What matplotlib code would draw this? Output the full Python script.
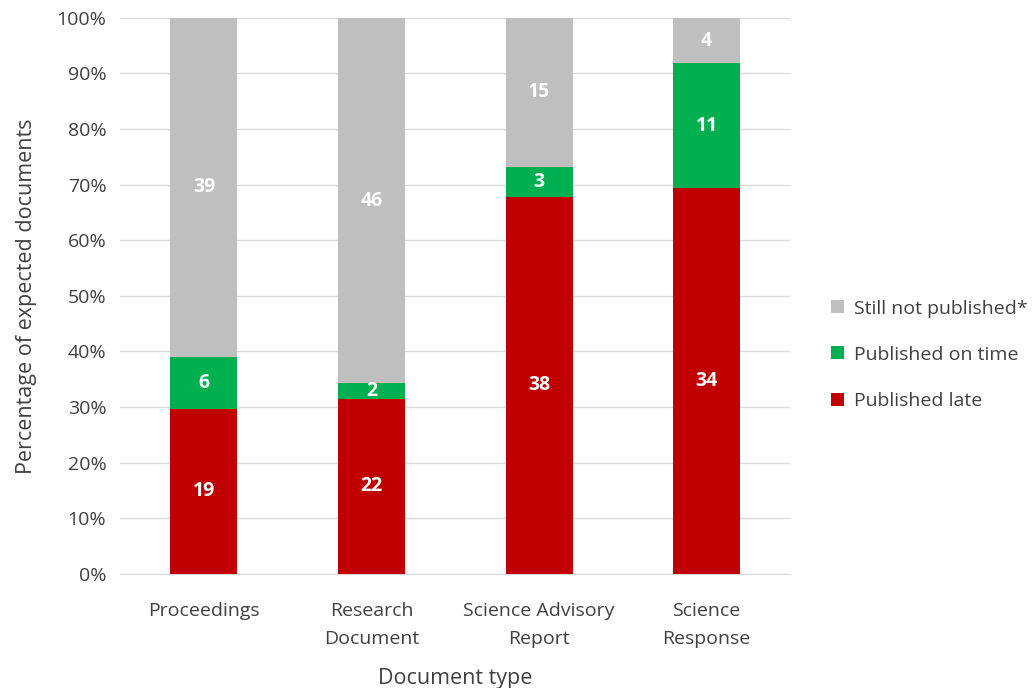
import matplotlib
matplotlib.use("Agg")
import matplotlib.pyplot as plt
import numpy as np

categories = ["Proceedings", "Research\nDocument", "Science Advisory\nReport", "Science\nResponse"]
published_late = [19, 22, 38, 34]
published_on_time = [6, 2, 3, 11]
still_not_published = [39, 46, 15, 4]
series_names = ["Published late", "Published on time", "Still not published*"]
colors = ["#C00000", "#00B050", "#BFBFBF"]

plt.rcParams['font.family'] = ['Open Sans', 'DejaVu Sans']

fig = plt.figure(figsize=(10.36, 6.88), dpi=100)
ax = fig.add_axes([0.116, 0.166, 0.647, 0.808])

counts = np.array([published_late, published_on_time, still_not_published], dtype=float)
totals = counts.sum(axis=0)
pct = counts / totals * 100
x = np.arange(len(categories))
bottom = np.zeros(len(categories))
handles = []
for i in range(3):
    b = ax.bar(x, pct[i], 0.4, bottom=bottom, color=colors[i], label=series_names[i], zorder=3)
    handles.append(b)
    for j in range(len(categories)):
        ax.text(x[j], bottom[j] + pct[i][j] / 2, f"{int(counts[i][j])}", ha='center', va='center',
                color='white', fontsize=14, fontweight='bold', zorder=4)
    bottom += pct[i]

ax.set_xlim(-0.5, 3.5)
ax.set_ylim(0, 100)
ax.set_yticks(np.arange(0, 101, 10))
ax.set_yticklabels([f"{v}%" for v in range(0, 101, 10)])
ax.set_xticks(x)
ax.set_xticklabels(categories, linespacing=1.75)
ax.tick_params(axis='both', length=0, labelsize=14, colors='#404040')
ax.tick_params(axis='x', pad=20)
ax.tick_params(axis='y', pad=10)
ax.grid(axis='y', color='#D9D9D9', linewidth=1, zorder=0)
for s in ['top', 'right', 'left']:
    ax.spines[s].set_visible(False)
ax.spines['bottom'].set_color('#D9D9D9')
ax.set_ylabel("Percentage of expected documents", fontsize=15.5, color='#404040', labelpad=14)
ax.set_xlabel("Document type", fontsize=15.5, color='#404040', labelpad=14)

leg = ax.legend(handles[::-1], series_names[::-1], loc='center left', bbox_to_anchor=(1.035, 0.394),
                frameon=False, fontsize=14, handlelength=0.65, handleheight=0.65, labelspacing=1.45,
                handletextpad=0.5)
for t in leg.get_texts():
    t.set_color('#404040')

fig.savefig("out.png", dpi=100)
